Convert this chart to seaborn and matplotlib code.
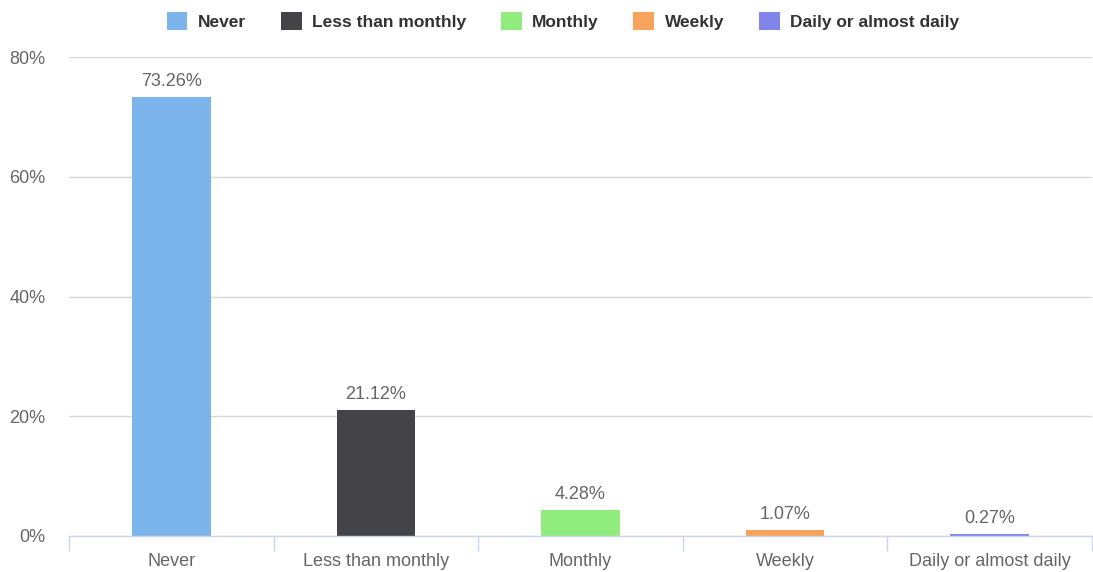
import matplotlib
matplotlib.use("Agg")
import matplotlib.pyplot as plt
from matplotlib.patches import Patch
import seaborn as sns
import pandas as pd

categories = ["Never", "Less than monthly", "Monthly", "Weekly", "Daily or almost daily"]
values = [73.26, 21.12, 4.28, 1.07, 0.27]
colors = ["#7cb5ec", "#434348", "#90ed7d", "#f7a35c", "#8085e9"]
y_ticks = [0, 20, 40, 60, 80]

sns.set_style("white")
plt.rcParams['font.family'] = ['Liberation Sans', 'DejaVu Sans']

df = pd.DataFrame({"category": categories, "value": values})

fig = plt.figure(figsize=(10.93, 5.72), dpi=100)
ax = fig.add_axes([69/1093, 1-536/572, (1092-69)/1093, (536-57)/572])

sns.barplot(data=df, x="category", y="value", hue="category", palette=colors,
            order=categories, hue_order=categories, width=0.385, legend=False,
            saturation=1, linewidth=0, ax=ax)

ax.set_xlim(-0.5, 4.5)
ax.set_ylim(0, 80)
ax.set_yticks(y_ticks)
ax.set_yticklabels([f"{t}%" for t in y_ticks], fontsize=13, color="#666666")
ax.tick_params(axis="y", length=0, pad=17)
ax.set_xlabel("")
ax.set_ylabel("")
ax.set_xticks(range(len(categories)))
ax.set_xticklabels(categories, fontsize=13, color="#666666")
ax.tick_params(axis="x", which="major", length=0, pad=12)
ax.set_xticks([i - 0.5 for i in range(len(categories) + 1)], minor=True)
ax.tick_params(axis="x", which="minor", bottom=True, length=11, width=1, color="#ccd6eb")

ax.yaxis.grid(True, color="#d8d8d8", linewidth=1)
ax.set_axisbelow(True)
for s in ["top", "right", "left"]:
    ax.spines[s].set_visible(False)
ax.spines["bottom"].set_color("#ccd6eb")
ax.spines["bottom"].set_linewidth(1)
ax.spines["bottom"].set_zorder(5)

for i, v in enumerate(values):
    ax.annotate(f"{v:.2f}%", (i, v), xytext=(0, 5), textcoords="offset points",
                ha="center", va="bottom", fontsize=13, color="#666666")

handles = [Patch(facecolor=c, edgecolor="none", label=l) for c, l in zip(colors, categories)]
leg = fig.legend(handles=handles, loc="center", bbox_to_anchor=(0.515, 1-21/572), ncol=5,
                 frameon=False, prop={"weight": "bold", "size": 12.5},
                 handlelength=1.2, handleheight=1.2, columnspacing=2.0, handletextpad=0.6)
for t in leg.get_texts():
    t.set_color("#333333")

fig.savefig("out.png", dpi=100)
